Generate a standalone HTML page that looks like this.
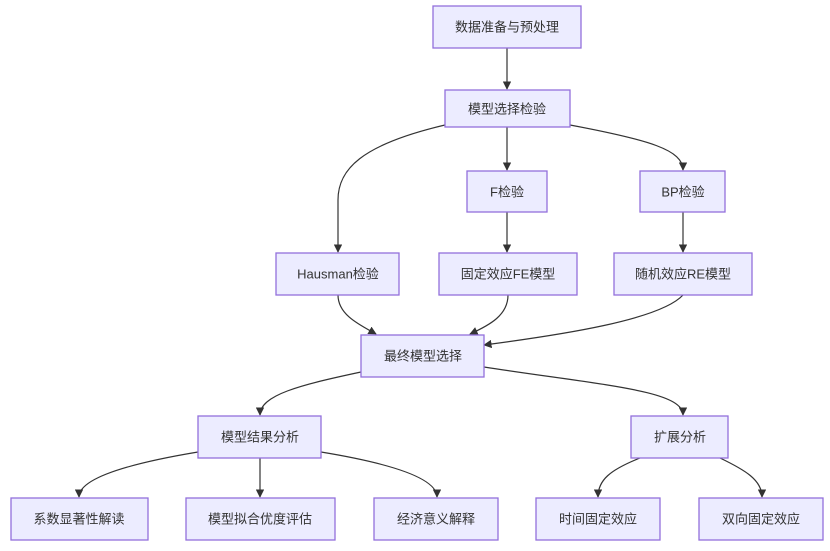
<!DOCTYPE html>
<html><head><meta charset="utf-8"><style>
html,body{margin:0;padding:0;background:#fff;}
svg{display:block}
text{font-family:"Liberation Sans","Noto Sans CJK SC",sans-serif;font-size:13px;fill:#333;text-anchor:middle;dominant-baseline:central}
rect{fill:#ECECFF;stroke:#9370DB;stroke-width:1.3}
path{fill:none;stroke:#333;stroke-width:1.2}
</style></head><body>
<svg width="830" height="551" viewBox="0 0 830 551">
<defs><marker id="a" viewBox="0 0 10 10" refX="9" refY="5" markerWidth="7" markerHeight="7" orient="auto"><path d="M0,0L10,5L0,10z" style="fill:#333;stroke:none"/></marker></defs>
<g marker-end="url(#a)">
<path d="M507,48V89"/>
<path d="M507,127V170"/>
<path d="M445,125C360,145 338,170 338,200V252"/>
<path d="M570,125C650,140 683,150 683,170"/>
<path d="M507,212V252"/>
<path d="M683,212V252"/>
<path d="M338,295C338,315 360,325 376,334"/>
<path d="M508,295C508,315 490,325 470,334"/>
<path d="M683,295C660,320 560,335 484,345"/>
<path d="M361,372C300,385 260,395 260,415"/>
<path d="M484,367C600,385 683,390 683,415"/>
<path d="M198,452C120,465 79,480 79,497"/>
<path d="M260,458V497"/>
<path d="M321,452C400,465 437,480 437,497"/>
<path d="M640,458C610,470 598,480 598,497"/>
<path d="M720,458C745,470 762,480 762,497"/>
</g>
<rect x="433" y="6" width="148" height="42"/><text x="507" y="27">数据准备与预处理</text>
<rect x="445" y="90" width="125" height="37"/><text x="507" y="109">模型选择检验</text>
<rect x="467" y="171" width="80" height="41"/><text x="507" y="192">F检验</text>
<rect x="640" y="171" width="85" height="41"/><text x="683" y="192">BP检验</text>
<rect x="276" y="253" width="123" height="42"/><text x="338" y="274">Hausman检验</text>
<rect x="439" y="253" width="138" height="42"/><text x="508" y="274">固定效应FE模型</text>
<rect x="614" y="253" width="138" height="42"/><text x="683" y="274">随机效应RE模型</text>
<rect x="361" y="335" width="123" height="42"/><text x="423" y="356">最终模型选择</text>
<rect x="198" y="416" width="123" height="42"/><text x="260" y="437">模型结果分析</text>
<rect x="631" y="416" width="97" height="42"/><text x="680" y="437">扩展分析</text>
<rect x="11" y="498" width="137" height="42"/><text x="79" y="519">系数显著性解读</text>
<rect x="186" y="498" width="149" height="42"/><text x="260" y="519">模型拟合优度评估</text>
<rect x="374" y="498" width="124" height="42"/><text x="436" y="519">经济意义解释</text>
<rect x="536" y="498" width="124" height="42"/><text x="598" y="519">时间固定效应</text>
<rect x="699" y="498" width="124" height="42"/><text x="761" y="519">双向固定效应</text>
</svg>
</body></html>
